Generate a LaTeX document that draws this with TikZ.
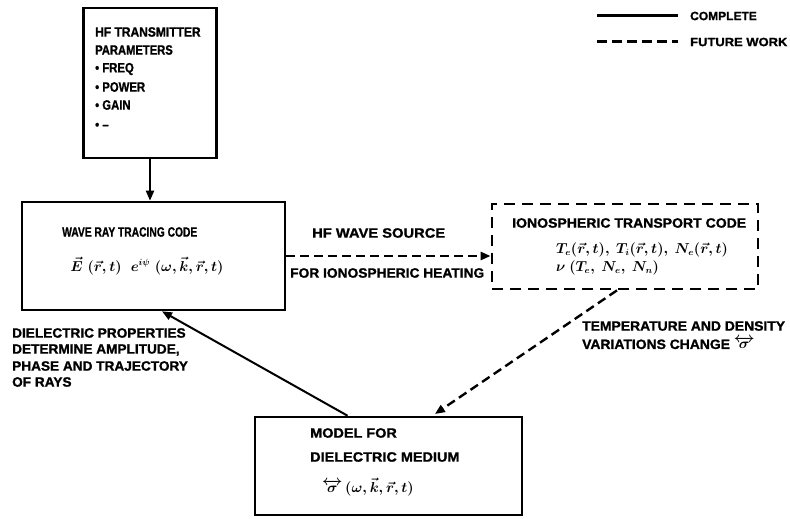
\documentclass[tikz,border=0pt]{standalone}
\usepackage{amsmath}
\usepackage{graphicx}
\usepackage{fontspec}
\setmainfont{Liberation Sans}[BoldFont={Liberation Sans Bold},BoldFeatures={FakeBold=1.2}]
\usetikzlibrary{arrows.meta,calc}
\newcommand{\hs}[2]{\scalebox{#1}[1]{#2}}
\begin{document}
\begin{tikzpicture}[x=1pt,y=-1pt,
  lbl/.style={inner sep=0pt,anchor=west,font=\fontsize{13.5}{15}\selectfont\bfseries\boldmath},
  leg/.style={inner sep=0pt,anchor=west,font=\fontsize{12}{14}\selectfont\bfseries},
  mth/.style={inner sep=0pt,font=\fontsize{13.5}{15}\selectfont\bfseries\boldmath},
  boxst/.style={draw,line width=2.6pt,inner sep=0pt},
  dboxst/.style={draw,line width=2.8pt,inner sep=0pt,dash pattern=on 11pt off 7pt},
  solidarrow/.style={line width=2pt,-{Triangle[length=10pt,width=8pt]}},
  dasharrow/.style={line width=2.4pt,dash pattern=on 9pt off 5pt,-{Triangle[length=10pt,width=8pt]}},
]
\useasboundingbox (0,0) rectangle (790,519);
% boxes
\node[boxst,minimum width=133pt,minimum height=150pt] (tx) at (150,83) {};
\node[boxst,minimum width=263pt,minimum height=108pt] (wrt) at (153.5,256) {};
\node[dboxst,minimum width=266pt,minimum height=85pt] (iono) at (625,246.5) {};
\node[boxst,minimum width=267pt,minimum height=98pt] (model) at (388.5,466) {};
% top box text
\node[lbl] (t1) at (95,32) {\hs{0.89}{HF TRANSMITTER}};
\node[lbl] (t2) at (95,50) {\hs{0.83}{PARAMETERS}};
\node[lbl] (t3) at (95,69) {\hs{0.84}{• FREQ}};
\node[lbl] (t4) at (95,87) {\hs{0.84}{• POWER}};
\node[lbl] (t5) at (95,105) {\hs{0.84}{• GAIN}};
\node[lbl] (t6) at (95,126) {\hs{0.84}{• –}};
% wave ray tracing code
\node[lbl] (w1) at (62,232) {\hs{0.76}{WAVE RAY TRACING CODE}};
\node[mth] (w2) at (147,266) {$\vec{E}\;(\vec{r},t)\;\; e^{i\psi}\;(\omega,\vec{k},\vec{r},t)$};
% ionospheric transport code
\node[lbl] (i1) at (512,223) {\hs{1.04}{IONOSPHERIC TRANSPORT CODE}};
\node[lbl] (i2) at (556,250) {$T_e(\vec{r},t),\ T_i(\vec{r},t),\ N_e(\vec{r},t)$};
\node[lbl] (i3) at (556,268) {$\nu\ (T_e,\ N_e,\ N_n)$};
% model box
\node[lbl] (m1) at (310,433) {\hs{1.07}{MODEL FOR}};
\node[lbl] (m2) at (310,457) {\hs{1.07}{DIELECTRIC MEDIUM}};
\node[mth] (m3) at (368,487) {$\overleftrightarrow{\sigma}\,(\omega,\vec{k},\vec{r},t)$};
% connector labels
\node[lbl] (h1) at (312,233) {\hs{1.09}{HF WAVE SOURCE}};
\node[lbl] (h2) at (290,273) {\hs{1.02}{FOR IONOSPHERIC HEATING}};
\node[lbl] (d1) at (12,333) {\hs{1.01}{DIELECTRIC PROPERTIES}};
\node[lbl] (d2) at (12,350) {\hs{1.01}{DETERMINE AMPLITUDE,}};
\node[lbl] (d3) at (12,366) {\hs{1.01}{PHASE AND TRAJECTORY}};
\node[lbl] (d4) at (12,382) {\hs{1.01}{OF RAYS}};
\node[lbl] (v1) at (582,326) {\hs{1.03}{TEMPERATURE AND DENSITY}};
\node[lbl] (v2) at (582,343) {\hs{1.03}{VARIATIONS CHANGE $\overleftrightarrow{\sigma}$}};
% legend
\coordinate (lsA) at (597,16);
\coordinate (lsB) at (678,16);
\coordinate (ldA) at (597,42);
\coordinate (ldB) at (678,42);
\draw[line width=3pt] (lsA) -- (lsB);
\draw[line width=3pt,dash pattern=on 10pt off 5pt] (ldA) -- (ldB);
\node[leg] (lc) at (690,16) {\hs{1.0}{COMPLETE}};
\node[leg] (lf) at (690,42) {\hs{1.08}{FUTURE WORK}};
% connectors
\draw[solidarrow] (tx.south) -- (tx.south |- wrt.north);
\draw[dasharrow] (wrt.east) -- (wrt.east -| iono.west);
\draw[dasharrow,shorten >=3pt] ($(iono.south west)!0.47!(iono.south east)$) -- ($(model.north west)!0.663!(model.north east)$);
\draw[solidarrow] ($(model.north west)!0.348!(model.north east)$) -- ($(wrt.south west)!0.532!(wrt.south east)$);
\end{tikzpicture}
\end{document}
